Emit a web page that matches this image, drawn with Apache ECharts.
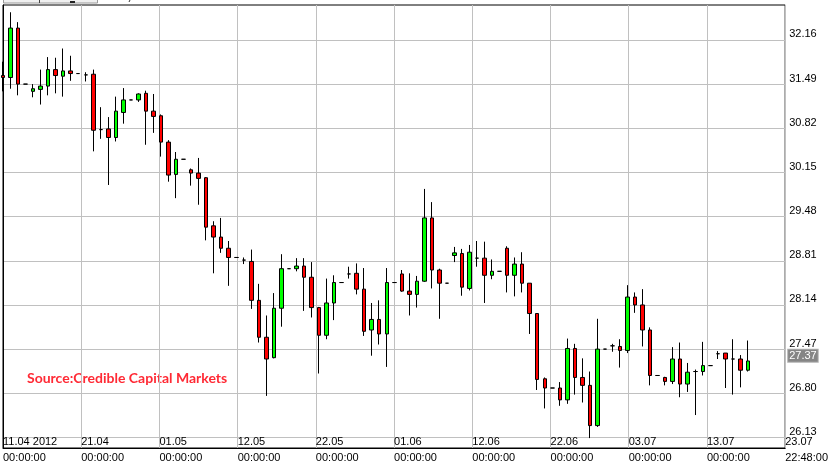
<!DOCTYPE html>
<html>
<head>
<meta charset="utf-8">
<style>
  html, body { margin: 0; padding: 0; background: #fff; }
  #chart { width: 831px; height: 467px; }
</style>
<script src="https://cdn.jsdelivr.net/npm/echarts@6/dist/echarts.min.js"></script>
</head>
<body>
<div id="chart"></div>
<script>
// Day offsets from 11.04.2012 00:00
const days = [0,1,2,3,4,5,6,7,8,9,10,11,12,13,14,15,16,17,18,19,20,21,22,23,24,25,26,27,28,29,30,31,32,33,34,35,36,37,38,39,40,41,42,43,44,45,46,47,48,49,50,51,52,53,54,55,56,57,58,59,60,61,62,63,64,65,66,67,68,69,70,71,72,73,74,75,76,77,78,79,80,81,82,83,84,85,86,87,88,89,90,91,92,93,94,95,96,97,98,99];
const openV  = [31.62,31.59,32.34,31.49,31.38,31.41,31.46,31.71,31.61,31.69,31.65,31.63,31.64,30.80,30.81,30.68,31.06,31.25,31.25,31.35,31.08,31.01,30.61,30.12,30.35,30.19,30.14,30.07,29.34,29.17,29.00,28.86,28.82,28.80,28.21,27.65,27.34,28.09,28.69,28.69,28.73,28.56,28.10,27.68,28.17,28.48,28.61,28.62,28.38,27.76,27.92,27.70,28.48,28.61,28.35,28.30,28.50,29.46,28.67,28.47,28.89,28.92,28.39,28.85,28.85,28.59,28.65,29.00,28.59,28.76,28.47,28.01,27.02,26.88,26.88,26.70,27.48,27.04,26.92,26.31,27.47,27.52,27.51,27.45,28.26,28.14,27.76,27.07,27.04,26.98,27.32,26.94,27.13,27.13,27.22,27.40,27.41,27.32,27.32,27.15];
const closeV = [31.59,32.34,31.49,31.49,31.42,31.46,31.71,31.62,31.69,31.65,31.65,31.63,30.79,30.80,30.68,31.08,31.25,31.25,31.34,31.08,31.00,30.61,30.11,30.35,30.35,30.14,30.06,29.32,29.17,29.00,28.86,28.86,28.82,28.21,27.65,27.32,28.09,28.69,28.69,28.73,28.56,28.10,27.68,28.17,28.48,28.48,28.61,28.38,27.74,27.92,27.70,28.48,28.48,28.35,28.30,28.50,29.46,28.67,28.47,28.47,28.93,28.41,28.94,28.85,28.59,28.65,28.65,28.59,28.76,28.47,28.01,27.01,26.88,26.88,26.70,27.48,27.04,26.92,26.31,27.47,27.47,27.52,27.45,28.26,28.14,27.76,27.07,27.07,26.98,27.32,26.94,27.12,27.13,27.22,27.22,27.40,27.32,27.32,27.15,27.29];
const lowV   = [31.38,31.42,31.32,31.49,31.29,31.18,31.32,31.35,31.30,31.54,31.65,31.53,30.47,30.66,29.96,30.62,30.89,31.25,31.22,30.57,30.75,30.39,30.01,29.76,30.35,29.95,29.66,29.12,28.62,28.93,28.43,28.86,28.76,28.08,27.57,26.76,27.33,27.81,28.69,28.65,28.05,27.95,27.10,27.62,27.91,28.48,28.54,28.30,27.67,27.37,27.54,27.20,28.48,28.34,27.98,28.10,28.49,28.39,27.93,28.47,28.79,28.28,28.36,28.72,28.17,28.53,28.65,28.33,28.27,28.33,27.70,26.85,26.57,26.88,26.61,26.64,26.78,26.66,26.12,26.29,27.47,27.43,27.19,27.41,28.02,27.51,26.92,27.07,26.92,26.94,26.74,26.82,26.47,27.07,27.22,27.32,26.88,26.78,26.89,27.13];
const highV  = [31.83,32.58,32.43,31.49,31.49,31.71,31.90,31.89,32.03,31.92,31.65,31.67,31.71,31.14,30.99,31.30,31.43,31.25,31.35,31.39,31.34,31.03,30.64,30.46,30.35,30.21,30.37,30.08,29.41,29.46,29.11,28.86,28.86,28.98,28.46,27.98,28.32,28.91,28.69,28.85,28.85,28.79,28.11,28.54,28.59,28.48,28.72,28.77,28.70,28.17,28.21,28.70,28.48,28.67,28.62,28.58,29.90,29.70,28.69,28.47,29.02,28.99,29.05,29.11,29.10,28.83,28.65,29.03,28.86,28.94,28.47,28.01,27.04,26.88,26.97,27.63,27.55,27.33,27.13,27.93,27.47,27.55,27.62,28.44,28.33,28.38,27.80,27.07,27.05,27.50,27.57,27.26,27.16,27.58,27.22,27.44,27.41,27.62,27.38,27.60];

const yTicks = [26.13, 26.80, 27.47, 28.14, 28.81, 29.48, 30.15, 30.82, 31.49, 32.16];
const xDateLabels = ['11.04 2012','21.04','01.05','12.05','22.05','01.06','12.06','22.06','03.07','13.07','23.07'];
const xTimeLabels = ['00:00:00','00:00:00','00:00:00','00:00:00','00:00:00','00:00:00','00:00:00','00:00:00','00:00:00','00:00:00','22:48:00'];
const lastPrice = 27.37;
const sourceText = 'Source:Credible Capital Markets';

const X_MAX = 103.95;        // 23.07 22:48 in days from 11.04 00:00
const X_STEP = 10.395;       // ten equal label intervals
const labelFont = 'Liberation Sans';

const candleData = days.map((d, i) => [d, openV[i], closeV[i], lowV[i], highV[i]]);

const chart = echarts.init(document.getElementById('chart'), null, { renderer: 'canvas' });
const xIdx = v => Math.round(v / X_STEP);

chart.setOption({
  animation: false,
  backgroundColor: '#ffffff',
  grid: {
    left: 3, right: 45, top: 5, bottom: 19,
    show: true, borderColor: '#000', borderWidth: 1, backgroundColor: '#fff'
  },
  xAxis: [
    {
      type: 'value', min: 0, max: X_MAX, interval: X_STEP, position: 'bottom',
      axisLine: { show: true, lineStyle: { color: '#000', width: 1 } },
      axisTick: { show: false },
      splitLine: { show: true, lineStyle: { color: '#c0c0c0', width: 1 } },
      axisLabel: {
        inside: true, margin: 1, align: 'left', color: '#000',
        fontFamily: labelFont, fontSize: 11,
        showMinLabel: true, showMaxLabel: true,
        formatter: v => xDateLabels[xIdx(v)] || ''
      }
    },
    {
      type: 'value', min: 0, max: X_MAX, interval: X_STEP, position: 'bottom',
      axisLine: { show: false }, axisTick: { show: false }, splitLine: { show: false },
      axisLabel: {
        margin: 4, align: 'left', color: '#000',
        fontFamily: labelFont, fontSize: 11,
        showMinLabel: true, showMaxLabel: true,
        formatter: v => xTimeLabels[xIdx(v)] || ''
      }
    }
  ],
  yAxis: {
    type: 'value', position: 'right', min: 25.97, max: 32.69, scale: true,
    axisLine: { show: true, lineStyle: { color: '#000' } },
    axisTick: { show: false, customValues: yTicks },
    splitLine: { show: true, lineStyle: { color: '#c0c0c0', width: 1 } },
    axisLabel: {
      customValues: yTicks, margin: 4, color: '#000',
      fontFamily: labelFont, fontSize: 11, verticalAlign: 'bottom',
      showMinLabel: true, showMaxLabel: true,
      formatter: v => v.toFixed(2)
    }
  },
  series: [{
    type: 'candlestick',
    xAxisIndex: 0, yAxisIndex: 0,
    barWidth: 4,
    data: candleData,
    itemStyle: {
      color: '#00ff00', color0: '#ff0000',
      borderColor: '#000', borderColor0: '#000', borderColorDoji: '#000',
      borderWidth: 1
    },
    markLine: {
      silent: true, symbol: ['none', 'none'],
      lineStyle: { color: 'rgba(0,0,0,0)', width: 1, type: 'solid' },
      data: [{ yAxis: lastPrice }],
      label: {
        show: true, position: 'end', distance: 3, formatter: lastPrice.toFixed(2),
        color: '#fff', backgroundColor: '#858585',
        borderColor: '#b0b0b0', borderWidth: 1,
        padding: [1, 1, 0, 1],
        fontFamily: labelFont, fontSize: 11
      }
    }
  }],
  graphic: [
    { type: 'rect', shape: { x: 3.5, y: -6, width: 94, height: 9 }, style: { fill: '#f0f0f0', stroke: '#9a9a9a', lineWidth: 1 } },
    { type: 'line', shape: { x1: 39.5, y1: -2, x2: 39.5, y2: 3 }, style: { stroke: '#444', lineWidth: 1 } },
    { type: 'rect', shape: { x: 70, y: 1, width: 5, height: 2 }, style: { fill: '#222' } },
    { type: 'line', shape: { x1: 130, y1: 0, x2: 129, y2: 2 }, style: { stroke: '#333', lineWidth: 1 } },
    {
      type: 'text', left: 27, top: 371,
      style: {
        text: sourceText, fill: '#ff2a35',
        font: 'bold 14px Lato'
      }
    }
  ]
});
</script>
</body>
</html>
